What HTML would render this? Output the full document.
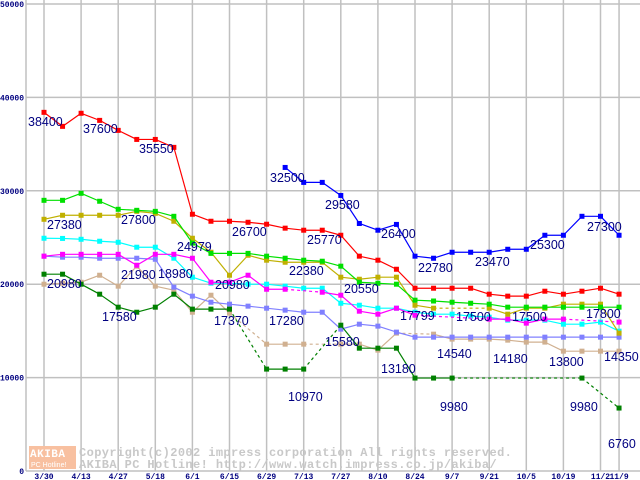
<!DOCTYPE html>
<html><head><meta charset="utf-8"><style>
body{margin:0;background:#fff;}
svg{display:block;font-family:"Liberation Sans",sans-serif;}
.lbl{font-size:12.5px;fill:#000080;}
.tk{font-size:8px;fill:#000080;font-weight:bold;font-family:"Liberation Mono",monospace;}
.wm{font-size:12px;fill:#c8c8c8;font-family:"Liberation Mono",monospace;font-weight:bold;letter-spacing:0.4px;}
</style></head><body>
<svg id="chart" width="640" height="480" viewBox="0 0 640 480">
<g id="grid"></g>
<g id="axes"></g>
<g id="series"></g>
<g>
<text class="lbl" x="28" y="126">38400</text>
<text class="lbl" x="83" y="133">37600</text>
<text class="lbl" x="139" y="153">35550</text>
<text class="lbl" x="270" y="182">32500</text>
<text class="lbl" x="325" y="209">29580</text>
<text class="lbl" x="232" y="236">26700</text>
<text class="lbl" x="307" y="244">25770</text>
<text class="lbl" x="381" y="238">26400</text>
<text class="lbl" x="587" y="231">27300</text>
<text class="lbl" x="530" y="249">25300</text>
<text class="lbl" x="177" y="251">24979</text>
<text class="lbl" x="418" y="272">22780</text>
<text class="lbl" x="475" y="266">23470</text>
<text class="lbl" x="47" y="229">27380</text>
<text class="lbl" x="121" y="224">27800</text>
<text class="lbl" x="289" y="275">22380</text>
<text class="lbl" x="121" y="279">21980</text>
<text class="lbl" x="47" y="288">20980</text>
<text class="lbl" x="215" y="289">20980</text>
<text class="lbl" x="344" y="293">20550</text>
<text class="lbl" x="400" y="320">17799</text>
<text class="lbl" x="456" y="321">17500</text>
<text class="lbl" x="512" y="321">17500</text>
<text class="lbl" x="586" y="318">17800</text>
<text class="lbl" x="158" y="278">18980</text>
<text class="lbl" x="102" y="321">17580</text>
<text class="lbl" x="214" y="325">17370</text>
<text class="lbl" x="269" y="325">17280</text>
<text class="lbl" x="325" y="346">15580</text>
<text class="lbl" x="437" y="358">14540</text>
<text class="lbl" x="493" y="363">14180</text>
<text class="lbl" x="549" y="366">13800</text>
<text class="lbl" x="604" y="361">14350</text>
<text class="lbl" x="381" y="373">13180</text>
<text class="lbl" x="288" y="401">10970</text>
<text class="lbl" x="440" y="411">9980</text>
<text class="lbl" x="570" y="411">9980</text>
<text class="lbl" x="608" y="448">6760</text>
</g>
<g>
<rect x="29" y="446" width="47" height="23" fill="#f8c0a0"/>
<text x="30" y="457" font-size="11" fill="#fff" font-weight="bold" font-family="Liberation Mono,monospace" letter-spacing="0.5">AKIBA</text>
<text x="31" y="467" font-size="7" fill="#fff" font-family="Liberation Sans,sans-serif">PC Hotline!</text>
<text class="wm" x="79" y="456">Copyright(c)2002 impress corporation All rights reserved.</text>
<text class="wm" x="79" y="468">AKIBA PC Hotline!  http://www.watch.impress.co.jp/akiba/</text>
</g>
</svg>
<script>
const xLabels=["3/30","4/13","4/27","5/18","6/1","6/15","6/29","7/13","7/27","8/10","8/24","9/7","9/21","10/5","10/19","11/2","11/9"];
const xLabelIdx=[0,2,4,6,8,10,12,14,16,18,20,22,24,26,28,30,31];
const yTicks=[0,10000,20000,30000,40000,50000];
const N=null;
const red=[38400,36900,38300,37540,36470,35500,35500,34650,27490,26740,26740,26630,26420,26000,25780,25780,25240,23000,22570,21600,19570,19570,19570,19570,18930,18720,18720,19250,18930,19250,19570,18930];
const blue=[N,N,N,N,N,N,N,N,N,N,N,N,N,32500,30900,30900,29500,26500,25780,26400,23000,22780,23420,23420,23420,23740,23740,25240,25240,27270,27270,25240];
const lime=[28980,28980,29730,28880,28020,27910,27800,27270,24400,23300,23300,23300,23000,22780,22570,22460,21930,20210,20100,20000,18290,18200,18070,17960,17860,17540,17540,17540,17540,17540,17540,17540];
const olive=[26950,27380,27380,27380,27380,27800,27590,26740,24920,23420,20960,23100,22570,22350,22350,22350,20750,20530,20750,20750,17750,17430,N,N,17430,16790,17430,17430,17860,17860,17860,14760];
const cyan=[24920,24900,24810,24600,24490,23960,23960,22780,20750,20110,20100,20000,20000,19790,19570,19570,17960,17750,17430,17430,17000,16790,16790,16580,16470,16150,16150,16150,15720,15720,15940,14970];
const magenta=[23000,23200,23200,23200,23200,22030,23200,23200,22780,20210,20210,20960,19460,19460,N,19140,18820,17110,16790,17430,16680,N,N,N,16260,16260,15830,16260,16260,N,N,15940];
const periwinkle=[23000,22890,22890,22780,22780,22780,22670,19680,18720,18070,17860,17650,17430,17220,17000,17000,15190,15720,15510,14870,14330,14330,14330,14330,14330,14330,14330,14330,14330,14330,14330,14330];
const tan=[20000,20100,20210,20960,19790,21930,19790,19360,17000,18820,16900,N,13580,13580,13580,N,13580,13580,12940,14760,N,14650,14120,14120,14120,14010,13800,13800,12830,12830,12830,12830];
const dkgreen=[21070,21070,20000,18930,17540,17000,17540,18930,17330,17330,17330,N,10910,10910,10910,N,15610,13150,13150,13150,9950,9950,9950,N,N,N,N,N,N,9950,N,6740];
const seriesList=[["tan",tan,"#d0b090"],["periwinkle",periwinkle,"#8080ff"],["dkgreen",dkgreen,"#008000"],["cyan",cyan,"#00ffff"],["magenta",magenta,"#ff00ff"],["olive",olive,"#c0b000"],["lime",lime,"#00e000"],["blue",blue,"#0000ff"],["red",red,"#ff0000"]];
const NS="http://www.w3.org/2000/svg";
function xS(i){return 44+i*18.55;}
function yS(v){return 471-v*0.00934;}
function mk(tag,at,parent){const e=document.createElementNS(NS,tag);for(const k in at)e.setAttribute(k,at[k]);parent.appendChild(e);return e;}
const grid=document.getElementById('grid'),axes=document.getElementById('axes'),ser=document.getElementById('series');
yTicks.forEach(t=>{const l=mk('line',{x1:26,x2:640,y1:yS(t),y2:yS(t),stroke:'#c0c0c0','stroke-width':1.5},grid);


const tx=mk('text',{x:24,y:yS(t)+3,'text-anchor':'end',class:'tk'},axes);tx.textContent=t;

});
xLabelIdx.forEach((idx,k)=>{const l=mk('line',{x1:xS(idx),x2:xS(idx),y1:0,y2:471,stroke:'#c0c0c0','stroke-width':1.5},grid);


const tx=mk('text',{x:xS(idx),y:479,'text-anchor':'middle',class:'tk'},axes);tx.textContent=xLabels[k];

});
const ax=mk('line',{x1:26,x2:26,y1:0,y2:471,stroke:'#c0c0c0','stroke-width':1.5},axes);


seriesList.forEach(([nm,vals,col])=>{
 const g=mk('g',{},ser);
 
 
 let prev=-1;
 vals.forEach((v,i)=>{if(v===null)return;
  if(prev>=0){const ln=mk('line',{x1:xS(prev),y1:yS(vals[prev]),x2:xS(i),y2:yS(v),stroke:col,'stroke-width':1.2},g);
   if(i-prev>1)ln.setAttribute('stroke-dasharray','3,3');
   
   }
  prev=i;});
 vals.forEach((v,i)=>{if(v===null)return;
  const r=mk('rect',{x:xS(i)-2.5,y:yS(v)-2.5,width:5,height:5,fill:col},g);
  
  });
});
</script>
</body></html>
